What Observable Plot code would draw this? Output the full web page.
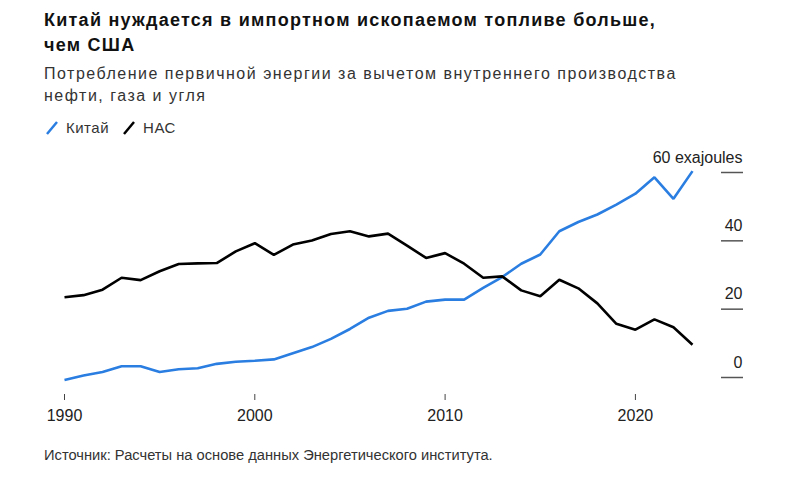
<!DOCTYPE html>
<html><head><meta charset="utf-8">
<script src="https://cdn.jsdelivr.net/npm/d3@7"></script>
<script src="https://cdn.jsdelivr.net/npm/@observablehq/plot@0.6"></script>
<style>
body{margin:0;background:#fff;font-family:"Liberation Sans",Arial,sans-serif;color:#111;}
#wrap{width:800px;height:493px;position:relative;overflow:hidden;background:#fff}
.title{position:absolute;left:44px;top:8px;font-weight:bold;font-size:18px;line-height:25px;width:740px;color:#111;letter-spacing:1.25px;white-space:nowrap}
.sub{position:absolute;left:44px;top:63px;font-size:16px;line-height:22px;width:740px;color:#333;letter-spacing:1.5px;white-space:nowrap}
.legend{position:absolute;left:46px;top:118px;font-size:15px;line-height:20px;color:#333;display:flex;align-items:center;letter-spacing:0.5px}
.legend span{display:inline-flex;align-items:center;margin-right:14px}
.legend svg{margin-right:8px}
#chart{position:absolute;left:0;top:140px}
.cap{position:absolute;left:44px;top:446px;font-size:14.7px;line-height:18px;color:#333}
</style></head>
<body>
<div id="wrap">
<div class="title">Китай нуждается в импортном ископаемом топливе больше,<br>чем США</div>
<div class="sub">Потребление первичной энергии за вычетом внутреннего производства<br>нефти, газа и угля</div>
<div class="legend" id="legend"></div>
<div id="chart"></div>
<div class="cap">Источник: Расчеты на основе данных Энергетического института.</div>
</div>
<script>
const years = [1990,1991,1992,1993,1994,1995,1996,1997,1998,1999,2000,2001,2002,2003,2004,2005,2006,2007,2008,2009,2010,2011,2012,2013,2014,2015,2016,2017,2018,2019,2020,2021,2022,2023];
const china = [-0.7,0.6,1.6,3.3,3.3,1.6,2.4,2.7,4.0,4.6,4.9,5.3,7.1,8.9,11.3,14.2,17.5,19.5,20.1,22.2,22.8,22.8,26.2,29.4,33.3,36.0,42.8,45.5,47.7,50.6,53.8,58.6,52.3,60.4];
const usa = [23.5,24.1,25.7,29.2,28.5,31.1,33.2,33.4,33.5,36.9,39.3,35.9,38.9,40.1,42.0,42.8,41.3,42.1,38.6,35.0,36.4,33.3,29.2,29.6,25.5,23.8,28.6,26.1,21.7,15.7,14.0,17.0,14.7,9.6];
const seriesNames = ["Китай","НАС"];
const seriesColors = ["#2a7de1","#000000"];
const xTicks = [1990,2000,2010,2020];
const yTicks = [0,20,40,60];
const unit = "exajoules";

const data = years.flatMap((y,i)=>[
  {year:y,value:china[i],series:seriesNames[0]},
  {year:y,value:usa[i],series:seriesNames[1]}
]);

const leg = document.getElementById("legend");
seriesNames.forEach((n,i)=>{
  const s=document.createElement("span");
  s.innerHTML=`<svg width="12" height="14"><line x1="1" y1="13" x2="11" y2="1" stroke="${seriesColors[i]}" stroke-width="2.5"/></svg>${n}`;
  leg.appendChild(s);
});

const chart = Plot.plot({
  width:800, height:290,
  marginLeft:64, marginRight:108, marginTop:32, marginBottom:36,
  insetBottom:17,
  style:{fontFamily:"Liberation Sans, Arial, sans-serif", color:"#222", background:"transparent"},
  x:{domain:[1990,2023]},
  y:{domain:[0,60]},
  color:{domain:seriesNames, range:seriesColors},
  marks:[
    Plot.axisX({ticks:xTicks, tickFormat:"d", tickSize:6, tickPadding:9, fontSize:16, stroke:"#444", label:null}),
    Plot.axisY({anchor:"right", ticks:yTicks, tickSize:22, dx:28, tickFormat:()=>"", stroke:"#555", strokeWidth:1.5, label:null}),
    Plot.axisY({anchor:"right", ticks:yTicks, tickSize:0, tickPadding:0, dx:50, dy:-15, textAnchor:"end", fontSize:16, fill:"#222",
      tickFormat:d=> d===60 ? `60 ${unit}` : String(d), label:null}),
    Plot.line(data,{x:"year", y:"value", stroke:"series", strokeWidth:2.6, strokeLinejoin:"miter", strokeLinecap:"butt"})
  ]
});
document.getElementById("chart").appendChild(chart);
</script>
</body></html>
